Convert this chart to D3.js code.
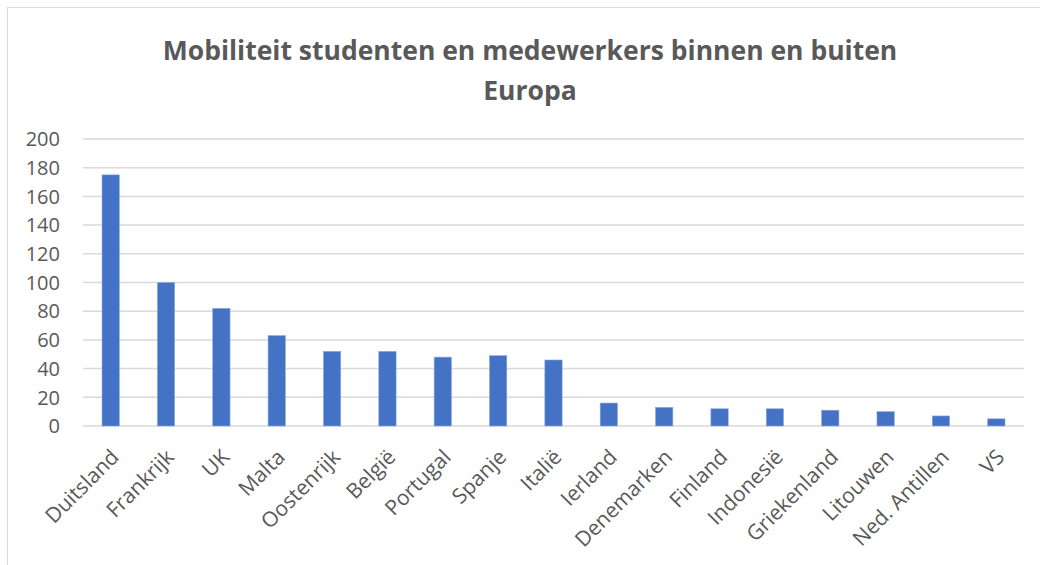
<!DOCTYPE html>
<html>
<head>
<meta charset="utf-8">
<script src="https://cdn.jsdelivr.net/npm/d3@7"></script>
<style>
  body { margin: 0; background: #fff; }
  text { font-family: "Open Sans", sans-serif; fill: #595959; }
</style>
</head>
<body>
<svg id="chart" width="1040" height="565"></svg>
<script>
var categories = ["Duitsland", "Frankrijk", "UK", "Malta", "Oostenrijk", "België", "Portugal", "Spanje", "Italië",
  "Ierland", "Denemarken", "Finland", "Indonesië", "Griekenland", "Litouwen", "Ned. Antillen", "VS"];
var values = [175, 100, 82, 63, 52, 52, 48, 49, 46, 16, 13, 12, 12, 11, 10, 7, 5];
var yTicks = [0, 20, 40, 60, 80, 100, 120, 140, 160, 180, 200];
var titleLines = ["Mobiliteit studenten en medewerkers binnen en buiten", "Europa"];

var svg = d3.select("#chart");

// chart area border (only top and left visible in the shot)
svg.append("rect")
  .attr("x", 7.5).attr("y", 7.5)
  .attr("width", 1100).attr("height", 600)
  .attr("fill", "#fff")
  .attr("stroke", "#d9d9d9")
  .attr("stroke-width", 1);

var x = d3.scaleBand()
  .domain(categories)
  .range([83, 1024])
  .paddingInner(0.687)
  .paddingOuter(0.3435);

var y = d3.scaleLinear()
  .domain([0, 200])
  .range([426, 139]);

// gridlines
svg.append("g")
  .selectAll("line")
  .data(yTicks)
  .join("line")
  .attr("x1", 83).attr("x2", 1024)
  .attr("y1", function(d) { return y(d); })
  .attr("y2", function(d) { return y(d); })
  .attr("stroke", "#d9d9d9")
  .attr("stroke-width", 1.5);

// y labels
svg.append("g")
  .selectAll("text")
  .data(yTicks)
  .join("text")
  .attr("x", 60)
  .attr("y", function(d) { return y(d); })
  .attr("dy", "0.36em")
  .attr("text-anchor", "end")
  .style("font-size", "20px")
  .text(function(d) { return d; });

// bars
svg.append("g")
  .selectAll("rect")
  .data(values)
  .join("rect")
  .attr("x", function(d, i) { return x(categories[i]); })
  .attr("y", function(d) { return y(d); })
  .attr("width", x.bandwidth())
  .attr("height", function(d) { return y(0) - y(d); })
  .attr("fill", "#4472c4")
  .attr("stroke", "#8faadc")
  .attr("stroke-width", 0.6);

// x labels, rotated -45deg, ending near the bar
svg.append("g")
  .selectAll("text")
  .data(categories)
  .join("text")
  .attr("transform", function(d) {
    return "translate(" + (x(d) + x.bandwidth() / 2 - 1) + ",448) rotate(-45)";
  })
  .attr("text-anchor", "end")
  .attr("dy", "0.7em")
  .style("font-size", "21px")
  .text(function(d) { return d; });

// title
svg.append("g")
  .selectAll("text")
  .data(titleLines)
  .join("text")
  .attr("x", 530)
  .attr("y", function(d, i) { return 60 + i * 40; })
  .attr("text-anchor", "middle")
  .style("font-size", "26.5px")
  .style("font-weight", "bold")
  .text(function(d) { return d; });
</script>
</body>
</html>
